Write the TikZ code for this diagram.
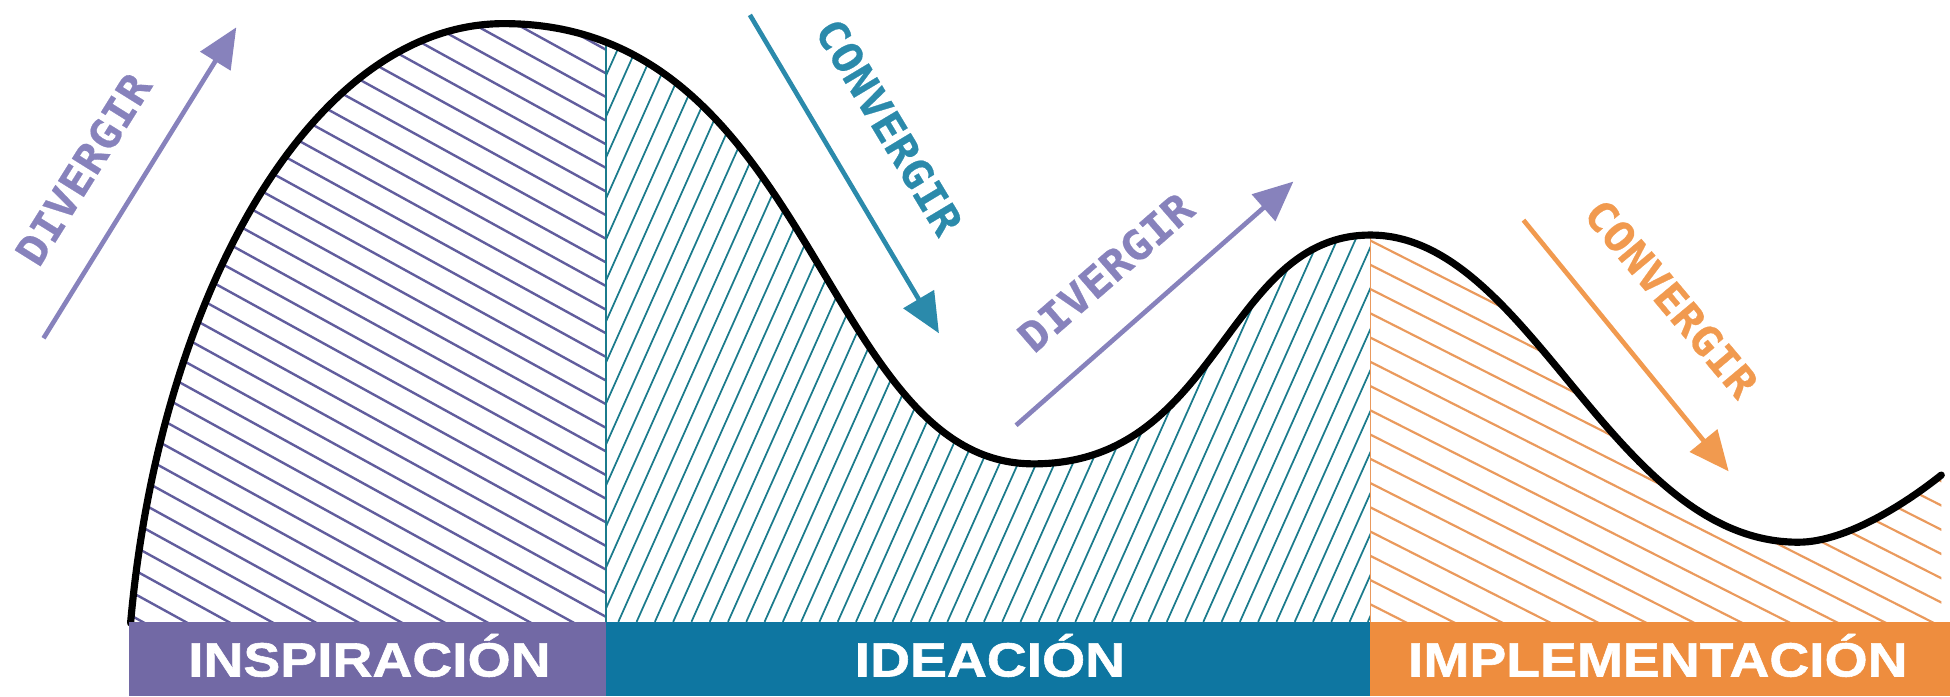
\documentclass[tikz,border=0pt]{standalone}
\usepackage{fontspec}
\usetikzlibrary{arrows.meta}
\newfontfamily\arrowfont[FakeStretch=1.08,FakeBold=0.6]{DejaVu Sans Mono}
\newfontfamily\barfont[FakeStretch=1.15,FakeBold=1.2]{Liberation Sans}
\definecolor{purpbar}{HTML}{7269A5}
\definecolor{purparrow}{HTML}{8782BC}
\definecolor{purphatch}{HTML}{615D9D}
\definecolor{tealbar}{HTML}{0E76A1}
\definecolor{tealarrow}{HTML}{2B8AAB}
\definecolor{tealhatch}{HTML}{1B7B8C}
\definecolor{orbar}{HTML}{EE8D3E}
\definecolor{orarrow}{HTML}{F19A4F}
\definecolor{orhatch}{HTML}{EA9A5D}
\tikzset{
  barlabel/.style={text=white, inner sep=0pt, anchor=base,
    font=\barfont\bfseries\fontsize{22}{24}\selectfont},
  phase/.style={inner sep=0pt, font=\arrowfont\bfseries\fontsize{19}{22}\selectfont},
  flow/.style={line width=0.075cm, -{Triangle[length=0.64cm,width=0.56cm]}},
  hatchline/.style={line width=1pt},
  curveline/.style={line width=0.115cm, black, line cap=round}
}
\begin{document}
\begin{tikzpicture}[x=0.02cm,y=-0.02cm]
\useasboundingbox (0,0) rectangle (1568,560);
\coordinate (s0) at (105,501);
\coordinate (p1) at (405,19);
\coordinate (m1) at (831,373);
\coordinate (p2) at (1102,189);
\coordinate (m2) at (1446,436);
\coordinate (e0) at (1561,382);
% hatching
\begin{scope}
\clip (s0) .. controls (128,240) and (250,19) .. (p1)
  .. controls (655,19) and (661,373) .. (m1)
  .. controls (981,373) and (985,189) .. (p2)
  .. controls (1231,189) and (1296,436) .. (m2)
  .. controls (1486,436) and (1536,402) .. (e0)
  -- (1561,500) -- (105,500) -- cycle;
 \begin{scope}
  \clip (100,0) rectangle (487,500);
  \foreach \c in {-230,-211,...,510} \draw[hatchline,purphatch,line width=1.1pt] (100,\c) -- (490,\c+214.5);
 \end{scope}
 \begin{scope}
  \clip (487,0) rectangle (1102,500);
  \foreach \c in {262,276.7,...,1110} \draw[hatchline,tealhatch,line width=0.8pt] (\c,500) -- (\c+223,0);
 \end{scope}
 \begin{scope}
  \clip (1102,0) rectangle (1568,500);
  \foreach \c in {-60,-40.5,...,505} \draw[hatchline,orhatch] (1102,\c) -- (1568,\c+236);
 \end{scope}
 \draw[tealhatch,line width=0.8pt] (487,0) -- (487,500);
 \draw[orhatch,line width=0.9pt] (1102,0) -- (1102,500);
\end{scope}
% curve
\draw[curveline] (s0) .. controls (128,240) and (250,19) .. (p1)
  .. controls (655,19) and (661,373) .. (m1)
  .. controls (981,373) and (985,189) .. (p2)
  .. controls (1231,189) and (1296,436) .. (m2)
  .. controls (1486,436) and (1536,402) .. (e0);
% bars
\fill[purpbar] (104,500) rectangle (487,560);
\fill[tealbar] (487,500) rectangle (1102,560);
\fill[orbar] (1102,500) rectangle (1568,560);
\node[barlabel] (insp) at (297,544) {INSPIRACIÓN};
\node[barlabel] (idea) at (796,544) {IDEACIÓN};
\node[barlabel] (impl) at (1333,544) {IMPLEMENTACIÓN};
% arrows
\coordinate (d1s) at (35,272);  \coordinate (d1e) at (190,22);
\coordinate (c1s) at (603,12);  \coordinate (c1e) at (755,268);
\coordinate (d2s) at (817,342); \coordinate (d2e) at (1040,146);
\coordinate (c2s) at (1225,177); \coordinate (c2e) at (1390,379);
\draw[flow,purparrow] (d1s) -- (d1e);
\draw[flow,tealarrow] (c1s) -- (c1e);
\draw[flow,purparrow] (d2s) -- (d2e);
\draw[flow,orarrow] (c2s) -- (c2e);
\node[phase,text=purparrow,rotate=58] (t1) at (67,136) {DIVERGIR};
\node[phase,text=tealarrow,rotate=-59] (t2) at (715,102) {CONVERGIR};
\node[phase,text=purparrow,rotate=41] (t3) at (889,219) {DIVERGIR};
\node[phase,text=orarrow,rotate=-50] (t4) at (1344,240) {CONVERGIR};
\end{tikzpicture}
\end{document}
